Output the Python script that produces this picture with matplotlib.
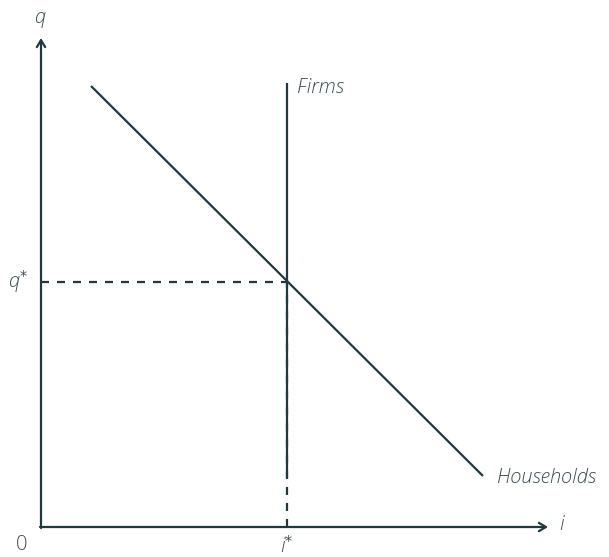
import matplotlib.pyplot as plt

# Loanable funds style diagram: q against i
i_star = 246
q_star = 245
households_i = [50, 442]
households_q = [441, 51]
firms_top = 444
firms_solid_bottom = 49
i_axis_end = 507
q_axis_end = 489

line_color = "#223840"
text_color = "#3c4c52"
font = dict(family="Open Sans", style="italic", fontweight="light", color=text_color, fontsize=14.5)

fig = plt.figure(figsize=(6.09, 5.57), dpi=100)
ax = fig.add_axes([0, 0, 1, 1])
ax.set_xlim(-41, 568)
ax.set_ylim(-30, 527)
ax.axis("off")

# axes with open arrowheads
arrow = dict(arrowstyle="->,head_length=0.5,head_width=0.3", lw=1.6, color=line_color,
             shrinkA=0, shrinkB=0)
ax.annotate("", xy=(0, q_axis_end), xytext=(0, -1), arrowprops=arrow)
ax.annotate("", xy=(i_axis_end, 0), xytext=(-1, 0), arrowprops=arrow)

# curves
ax.plot(households_i, households_q, color=line_color, lw=1.6, solid_capstyle="butt")
ax.plot([i_star, i_star], [firms_solid_bottom, firms_top], color=line_color, lw=1.6,
        solid_capstyle="butt")

# equilibrium guides
ax.plot([0, i_star], [q_star, q_star], color=line_color, lw=1.6, dashes=(3.6, 3.6))
ax.plot([i_star, i_star], [0, q_star], color=line_color, lw=1.6, dashes=(3.6, 3.6))

# labels
ax.text(-1, 509, "q", ha="center", va="center", **font)
ax.text(521, 2, "i", ha="center", va="center", **font)
ax.text(-19, -18, "0", ha="center", va="center", **{**font, "style": "normal"})
ax.text(i_star, -20, r"i$^{*}$", ha="center", va="center", **font)
ax.text(-23, q_star, r"q$^{*}$", ha="center", va="center", **font)
ax.text(256, 439, "Firms", ha="left", va="center", **font)
ax.text(456, 49, "Households", ha="left", va="center", **font)

fig.savefig("out.png", dpi=100)
plt.close(fig)
